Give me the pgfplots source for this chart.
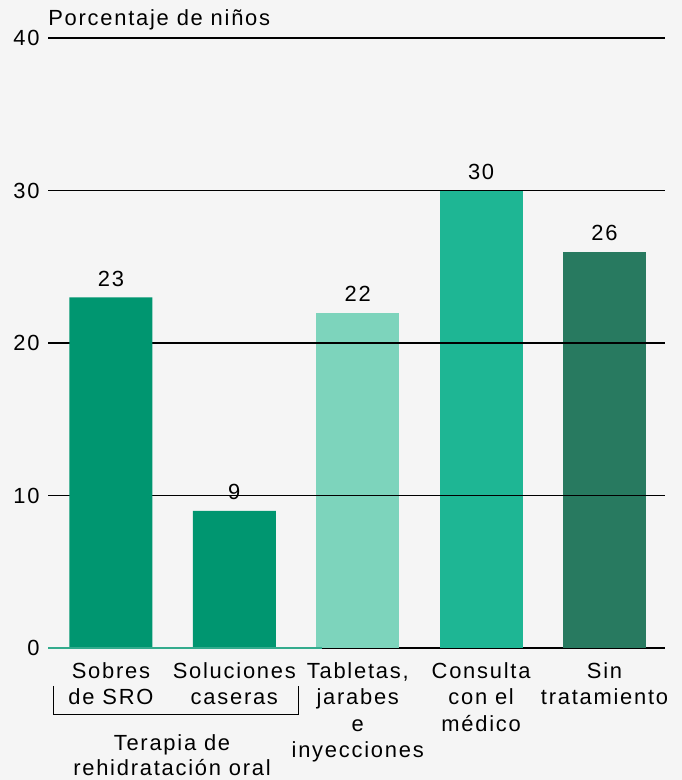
\documentclass[border=0pt]{standalone}
\usepackage{pgfplots}
\pgfplotsset{compat=1.18}
\usepackage{fontspec}
\setmainfont{Liberation Sans}[LetterSpace=8]
\definecolor{cA}{RGB}{0,150,112}
\definecolor{cB}{RGB}{125,212,188}
\definecolor{cC}{RGB}{30,182,148}
\definecolor{cD}{RGB}{40,122,96}
\definecolor{bg}{RGB}{245,245,245}
\begin{document}
\fontsize{11}{13.3}\selectfont
\begin{tikzpicture}[font=\fontsize{11}{13.3}\selectfont]
\fill[bg] (-24bp,-66bp) rectangle (317bp,324bp);
\begin{axis}[
  at={(0,0)}, anchor=south west,
  scale only axis, width=308.5bp, height=305bp,
  xmin=-0.51, xmax=4.49, ymin=0, ymax=40,
  ytick={0,10,20,30,40},
  xtick={0,1,2,3,4},
  xticklabels={{Sobres\\de SRO},{Soluciones\\caseras},{Tabletas,\\jarabes\\e\\inyecciones},{Consulta\\con el\\médico},{Sin\\tratamiento}},
  xticklabel style={align=center, anchor=north, inner sep=0pt, yshift=-7bp},
  yticklabel style={anchor=east, inner sep=0pt, xshift=-4bp},
  major tick length=0pt,
  axis line style={draw=none},
  ymajorgrids, grid style={black, line width=0.6bp},
  /pgf/number format/assume math mode=true,
  clip=false,
]
\addplot[ybar, fill=cA, draw=none, bar width=41.5bp, bar shift=0pt, nodes near coords,
  every node near coord/.append style={anchor=base, yshift=5.5bp, inner sep=0pt, text=black}]
  coordinates {(0,23) (1,9)};
\addplot[ybar, fill=cB, draw=none, bar width=41.5bp, bar shift=0pt, nodes near coords,
  every node near coord/.append style={anchor=base, yshift=5.5bp, inner sep=0pt, text=black}]
  coordinates {(2,22)};
\addplot[ybar, fill=cC, draw=none, bar width=41.5bp, bar shift=0pt, nodes near coords,
  every node near coord/.append style={anchor=base, yshift=5.5bp, inner sep=0pt, text=black}]
  coordinates {(3,30)};
\addplot[ybar, fill=cD, draw=none, bar width=41.5bp, bar shift=0pt, nodes near coords,
  every node near coord/.append style={anchor=base, yshift=5.5bp, inner sep=0pt, text=black}]
  coordinates {(4,26)};
% grid lines that show over the right-hand bars
\addplot[sharp plot, black, line width=0.6bp, mark=none] coordinates {(1.5,10) (4.49,10)};
\addplot[sharp plot, black, line width=0.6bp, mark=none] coordinates {(1.5,20) (4.49,20)};
% zero line
\addplot[sharp plot, cA!80, line width=0.8bp, mark=none] coordinates {(-0.51,0) (1.71,0)};
% bracket and group label
\draw[black, line width=0.5bp] (axis cs:-0.462,-2.49) -- (axis cs:-0.462,-4.33) -- (axis cs:1.517,-4.33) -- (axis cs:1.517,-2.49);
\node[anchor=base, inner sep=0pt] at (axis cs:0.495,-6.69) {Terapia de};
\node[anchor=base, inner sep=0pt] at (axis cs:0.495,-8.39) {rehidratación oral};
\node[anchor=base west, inner sep=0pt, yshift=6.5bp] at (rel axis cs:0,1) {Porcentaje de niños};
\end{axis}
\pgfresetboundingbox
\path[use as bounding box] (-24bp,-66bp) rectangle (317bp,324bp);
\end{tikzpicture}
\end{document}
